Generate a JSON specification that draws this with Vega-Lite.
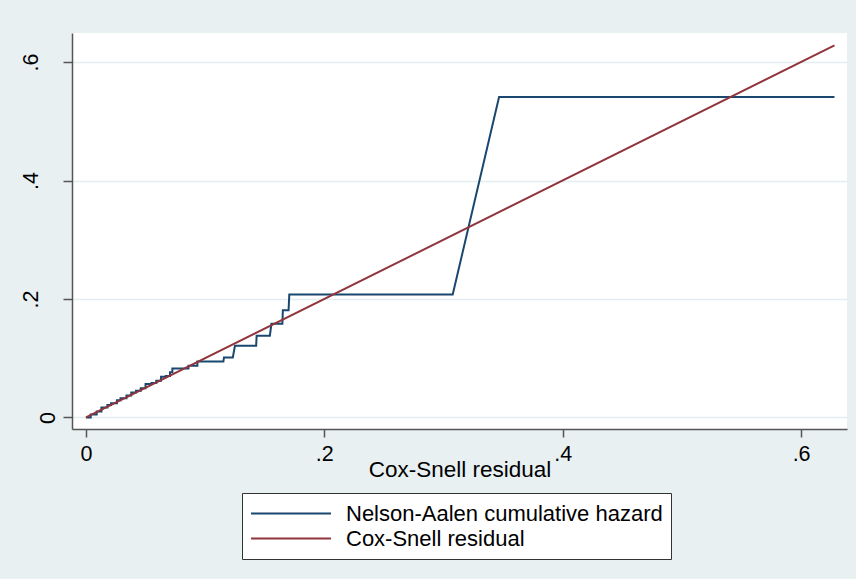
{
  "$schema": "https://vega.github.io/schema/vega-lite/v6.json",
  "width": 775,
  "height": 396,
  "autosize": {"type": "none"},
  "padding": {"left": 72, "top": 33, "right": 9, "bottom": 150},
  "background": "#E9F0F2",
  "config": {
    "font": "Liberation Sans",
    "view": {"fill": "white", "stroke": null}
  },
  "data": {
    "values": [
      {"series": "Nelson-Aalen cumulative hazard", "ord": 1, "cs": 0, "value": 0},
      {"series": "Nelson-Aalen cumulative hazard", "ord": 2, "cs": 0.004, "value": 0},
      {"series": "Nelson-Aalen cumulative hazard", "ord": 3, "cs": 0.004, "value": 0.005},
      {"series": "Nelson-Aalen cumulative hazard", "ord": 4, "cs": 0.009, "value": 0.005},
      {"series": "Nelson-Aalen cumulative hazard", "ord": 5, "cs": 0.009, "value": 0.010},
      {"series": "Nelson-Aalen cumulative hazard", "ord": 6, "cs": 0.013, "value": 0.010},
      {"series": "Nelson-Aalen cumulative hazard", "ord": 7, "cs": 0.013, "value": 0.0166},
      {"series": "Nelson-Aalen cumulative hazard", "ord": 8, "cs": 0.018, "value": 0.0166},
      {"series": "Nelson-Aalen cumulative hazard", "ord": 9, "cs": 0.018, "value": 0.021},
      {"series": "Nelson-Aalen cumulative hazard", "ord": 10, "cs": 0.021, "value": 0.021},
      {"series": "Nelson-Aalen cumulative hazard", "ord": 11, "cs": 0.021, "value": 0.024},
      {"series": "Nelson-Aalen cumulative hazard", "ord": 12, "cs": 0.026, "value": 0.024},
      {"series": "Nelson-Aalen cumulative hazard", "ord": 13, "cs": 0.026, "value": 0.029},
      {"series": "Nelson-Aalen cumulative hazard", "ord": 14, "cs": 0.029, "value": 0.029},
      {"series": "Nelson-Aalen cumulative hazard", "ord": 15, "cs": 0.029, "value": 0.0325},
      {"series": "Nelson-Aalen cumulative hazard", "ord": 16, "cs": 0.034, "value": 0.0325},
      {"series": "Nelson-Aalen cumulative hazard", "ord": 17, "cs": 0.034, "value": 0.037},
      {"series": "Nelson-Aalen cumulative hazard", "ord": 18, "cs": 0.038, "value": 0.037},
      {"series": "Nelson-Aalen cumulative hazard", "ord": 19, "cs": 0.038, "value": 0.042},
      {"series": "Nelson-Aalen cumulative hazard", "ord": 20, "cs": 0.042, "value": 0.042},
      {"series": "Nelson-Aalen cumulative hazard", "ord": 21, "cs": 0.042, "value": 0.045},
      {"series": "Nelson-Aalen cumulative hazard", "ord": 22, "cs": 0.046, "value": 0.045},
      {"series": "Nelson-Aalen cumulative hazard", "ord": 23, "cs": 0.046, "value": 0.0494},
      {"series": "Nelson-Aalen cumulative hazard", "ord": 24, "cs": 0.050, "value": 0.0494},
      {"series": "Nelson-Aalen cumulative hazard", "ord": 25, "cs": 0.050, "value": 0.0563},
      {"series": "Nelson-Aalen cumulative hazard", "ord": 26, "cs": 0.055, "value": 0.0563},
      {"series": "Nelson-Aalen cumulative hazard", "ord": 27, "cs": 0.055, "value": 0.058},
      {"series": "Nelson-Aalen cumulative hazard", "ord": 28, "cs": 0.059, "value": 0.058},
      {"series": "Nelson-Aalen cumulative hazard", "ord": 29, "cs": 0.059, "value": 0.0618},
      {"series": "Nelson-Aalen cumulative hazard", "ord": 30, "cs": 0.063, "value": 0.0618},
      {"series": "Nelson-Aalen cumulative hazard", "ord": 31, "cs": 0.063, "value": 0.0685},
      {"series": "Nelson-Aalen cumulative hazard", "ord": 32, "cs": 0.067, "value": 0.0685},
      {"series": "Nelson-Aalen cumulative hazard", "ord": 33, "cs": 0.067, "value": 0.070},
      {"series": "Nelson-Aalen cumulative hazard", "ord": 34, "cs": 0.0705, "value": 0.070},
      {"series": "Nelson-Aalen cumulative hazard", "ord": 35, "cs": 0.0705, "value": 0.0765},
      {"series": "Nelson-Aalen cumulative hazard", "ord": 36, "cs": 0.0725, "value": 0.0765},
      {"series": "Nelson-Aalen cumulative hazard", "ord": 37, "cs": 0.0725, "value": 0.0826},
      {"series": "Nelson-Aalen cumulative hazard", "ord": 38, "cs": 0.086, "value": 0.0826},
      {"series": "Nelson-Aalen cumulative hazard", "ord": 39, "cs": 0.086, "value": 0.0871},
      {"series": "Nelson-Aalen cumulative hazard", "ord": 40, "cs": 0.0935, "value": 0.0871},
      {"series": "Nelson-Aalen cumulative hazard", "ord": 41, "cs": 0.0935, "value": 0.0944},
      {"series": "Nelson-Aalen cumulative hazard", "ord": 42, "cs": 0.1153, "value": 0.0944},
      {"series": "Nelson-Aalen cumulative hazard", "ord": 43, "cs": 0.1158, "value": 0.1010},
      {"series": "Nelson-Aalen cumulative hazard", "ord": 44, "cs": 0.1232, "value": 0.1010},
      {"series": "Nelson-Aalen cumulative hazard", "ord": 45, "cs": 0.1250, "value": 0.1210},
      {"series": "Nelson-Aalen cumulative hazard", "ord": 46, "cs": 0.1428, "value": 0.1210},
      {"series": "Nelson-Aalen cumulative hazard", "ord": 47, "cs": 0.1432, "value": 0.1380},
      {"series": "Nelson-Aalen cumulative hazard", "ord": 48, "cs": 0.1543, "value": 0.1380},
      {"series": "Nelson-Aalen cumulative hazard", "ord": 49, "cs": 0.1556, "value": 0.1580},
      {"series": "Nelson-Aalen cumulative hazard", "ord": 50, "cs": 0.1648, "value": 0.1580},
      {"series": "Nelson-Aalen cumulative hazard", "ord": 51, "cs": 0.1652, "value": 0.1810},
      {"series": "Nelson-Aalen cumulative hazard", "ord": 52, "cs": 0.1700, "value": 0.1810},
      {"series": "Nelson-Aalen cumulative hazard", "ord": 53, "cs": 0.1706, "value": 0.2075},
      {"series": "Nelson-Aalen cumulative hazard", "ord": 54, "cs": 0.3077, "value": 0.2075},
      {"series": "Nelson-Aalen cumulative hazard", "ord": 55, "cs": 0.3466, "value": 0.5410},
      {"series": "Nelson-Aalen cumulative hazard", "ord": 56, "cs": 0.6280, "value": 0.5410},
      {"series": "Cox-Snell residual", "ord": 1, "cs": 0, "value": 0},
      {"series": "Cox-Snell residual", "ord": 2, "cs": 0.6280, "value": 0.6280}
    ]
  },
  "mark": {"type": "line", "strokeWidth": 2, "interpolate": "linear"},
  "encoding": {
    "x": {
      "field": "cs",
      "type": "quantitative",
      "scale": {"domain": [-0.0117, 0.6385], "nice": false, "zero": false},
      "axis": {
        "title": "Cox-Snell residual",
        "values": [0, 0.2, 0.4, 0.6],
        "labelExpr": "datum.value == 0 ? '0' : replace(format(datum.value, '.1f'), '0.', '.')",
        "grid": false,
        "domainColor": "#555555",
        "domainWidth": 1.5,
        "tickColor": "#555555",
        "tickWidth": 1.5,
        "tickSize": 8,
        "labelFontSize": 21.5,
        "labelColor": "black",
        "labelBaseline": "top",
        "labelPadding": 6,
        "labelFlush": false,
        "titleFontSize": 22.5,
        "titleFontWeight": "normal",
        "titleColor": "black",
        "titleBaseline": "alphabetic",
        "titlePadding": 12
      }
    },
    "y": {
      "field": "value",
      "type": "quantitative",
      "scale": {"domain": [-0.0195, 0.649], "nice": false, "zero": false},
      "axis": {
        "title": null,
        "values": [0, 0.2, 0.4, 0.6],
        "labelExpr": "datum.value == 0 ? '0' : replace(format(datum.value, '.1f'), '0.', '.')",
        "grid": true,
        "gridColor": "#E4EDF0",
        "gridWidth": 1.5,
        "domainColor": "#555555",
        "domainWidth": 1.5,
        "tickColor": "#555555",
        "tickWidth": 1.5,
        "tickSize": 9,
        "labelFontSize": 21.5,
        "labelColor": "black",
        "labelAngle": -90,
        "labelAlign": "center",
        "labelBaseline": {"condition": {"test": "datum.value == 0", "value": "top"}, "value": "alphabetic"},
        "labelPadding": 26,
        "labelFlush": false
      }
    },
    "color": {
      "field": "series",
      "type": "nominal",
      "scale": {
        "domain": ["Nelson-Aalen cumulative hazard", "Cox-Snell residual"],
        "range": ["#1A476F", "#90353B"]
      },
      "legend": {
        "orient": "none",
        "legendX": 170,
        "legendY": 460,
        "direction": "vertical",
        "title": null,
        "symbolType": "stroke",
        "symbolSize": 6400,
        "symbolStrokeWidth": 2,
        "clipHeight": 25,
        "rowPadding": 0,
        "labelOffset": 14,
        "labelFontSize": 22,
        "labelColor": "black",
        "labelLimit": 0,
        "padding": 8,
        "strokeColor": "#333333",
        "fillColor": "white"
      }
    },
    "order": {"field": "ord", "type": "quantitative"}
  }
}
